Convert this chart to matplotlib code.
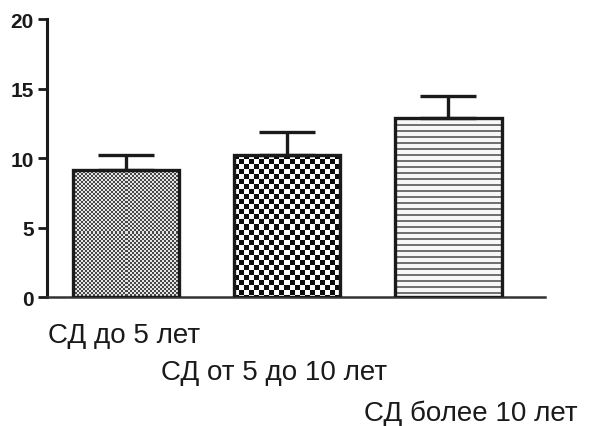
#!/usr/bin/env python3
"""Bar chart with SEM error bars, three diabetes-duration groups."""

import matplotlib

matplotlib.use("Agg")
import matplotlib.pyplot as plt
import numpy as np

categories = ["СД до 5 лет", "СД от 5 до 10 лет", "СД более 10 лет"]
means = [9.15, 10.25, 12.85]
errors = [1.1, 1.62, 1.58]
yticks = [0, 5, 10, 15, 20]

plt.rcParams["font.family"] = ["Liberation Sans", "DejaVu Sans"]


def checker(nrows, ncols, cell, dark, light):
    yy, xx = np.mgrid[0:nrows, 0:ncols]
    mask = ((yy // cell) + (xx // cell)) % 2 == 0
    img = np.empty((nrows, ncols, 3))
    img[mask] = dark
    img[~mask] = light
    return img


def stripes(nrows, ncols, period, thick, dark, light):
    yy = np.arange(nrows)[:, None] * np.ones((1, ncols))
    mask = (yy % period) < thick
    img = np.empty((nrows, ncols, 3))
    img[mask] = dark
    img[~mask] = light
    return img


fig = plt.figure(figsize=(5.92, 4.27), dpi=100)
ax = fig.add_axes([0.079, 0.302, 0.842, 0.651])

x = np.arange(len(categories))
ax.set_xlim(-0.49, 2.6)
ax.set_ylim(0, 20)

bars = ax.bar(x, means, width=0.66, facecolor="none", edgecolor="#1a1a1a",
              linewidth=2.4, zorder=3)
ax.errorbar(x, means, yerr=[np.zeros(len(means)), errors], fmt="none",
            ecolor="#1a1a1a", elinewidth=2.4, capsize=20, capthick=2.4, zorder=2)

# fill each bar with a pixel pattern, clipped to the bar
fig.canvas.draw()
for i, bar in enumerate(bars):
    x0, y0 = bar.get_x(), bar.get_y()
    x1, y1 = x0 + bar.get_width(), y0 + bar.get_height()
    p0 = ax.transData.transform((x0, y0))
    p1 = ax.transData.transform((x1, y1))
    w = int(round(p1[0] - p0[0]))
    h = int(round(p1[1] - p0[1]))
    if i == 0:
        img = checker(h, w, 2, (0.28, 0.28, 0.28), (0.9, 0.9, 0.9))
    elif i == 1:
        img = checker(h, w, 5, (0.05, 0.05, 0.05), (1.0, 1.0, 1.0))
    else:
        img = stripes(h, w, 6, 2, (0.45, 0.45, 0.45), (0.97, 0.97, 0.97))
    im = ax.imshow(img, extent=(x0, x1, y0, y1), interpolation="nearest",
                   aspect="auto", zorder=1)
    im.set_clip_path(bar)
ax.set_xlim(-0.49, 2.6)
ax.set_ylim(0, 20)

for side in ["top", "right"]:
    ax.spines[side].set_visible(False)
ax.spines["left"].set_linewidth(2.2)
ax.spines["left"].set_color("#1a1a1a")
ax.spines["bottom"].set_linewidth(1.8)
ax.spines["bottom"].set_color("#333333")

ax.set_yticks(yticks)
ax.set_yticklabels([str(t) for t in yticks], fontsize=15, fontweight="bold")
ax.tick_params(axis="y", direction="out", length=6.5, width=2, pad=3, colors="#1a1a1a")
ax.set_xticks([])

# staggered category labels below the axis
label_dx = [-0.01, -0.084, 0.137]
label_y = [-0.161, -0.295, -0.442]
for xi, name, dx, ly in zip(x, categories, label_dx, label_y):
    ax.text(xi + dx, ly, name, transform=ax.get_xaxis_transform(),
            ha="center", va="baseline", fontsize=20, color="#1a1a1a")

fig.savefig("out.png", dpi=100)
